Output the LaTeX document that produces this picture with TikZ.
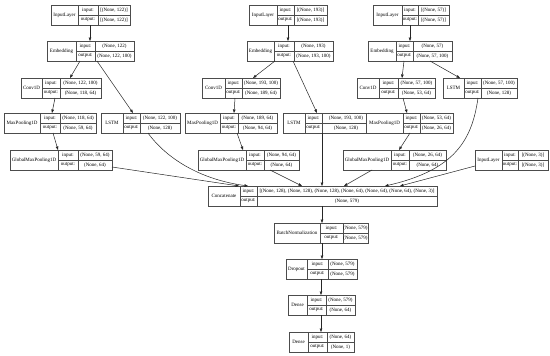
\documentclass[tikz,border=0pt]{standalone}
\usepackage{fontspec}
\setmainfont{Liberation Serif}
\usetikzlibrary{arrows.meta,calc}
\tikzset{
  box/.style={draw=black!70, line width=0.5pt, inner sep=0pt, outer sep=0pt, minimum height=20, fill=white},
  cell/.style={draw=black!70, line width=0.5pt},
  txt/.style={inner sep=0pt, font=\fontsize{5}{5.5}\selectfont, text=black},
  arr/.style={draw=black!85, line width=0.5pt, -{Triangle[length=3.5pt,width=2.6pt]}}
}
\newcommand{\klayer}[9]{%
  \node[box, minimum width={#5-#2}, anchor=north west] (#1) at (#2,#6) {};
  \draw[cell] (#3,#6) -- (#3,#6+20) (#4,#6) -- (#4,#6+20) (#3,#6+10) -- (#5,#6+10);
  \node[txt] (#1n) at ({(#2+#3)/2},#6+10) {#7};
  \node[txt] (#1il) at ({(#3+#4)/2},#6+5) {input:};
  \node[txt] (#1ol) at ({(#3+#4)/2},#6+15) {output:};
  \node[txt] (#1iv) at ({(#4+#5)/2},#6+5) {#8};
  \node[txt] (#1ov) at ({(#4+#5)/2},#6+15) {#9};
}
\begin{document}
\begin{tikzpicture}[x=1pt,y=-1pt]
\fill[white] (0,0) rectangle (550,356);
\useasboundingbox (0,0) rectangle (550,356);
% branch 1
\klayer{inA}{51}{78}{98}{130}{5}{InputLayer}{[(None, 122)]}{[(None, 122)]}
\klayer{embA}{47}{76}{95}{134}{41}{Embedding}{(None, 122)}{(None, 122, 100)}
\klayer{convA}{21}{42}{60}{101}{78}{Conv1D}{(None, 122, 100)}{(None, 118, 64)}
\klayer{mpA}{4}{40}{60}{96}{113}{MaxPooling1D}{(None, 118, 64)}{(None, 59, 64)}
\klayer{lstmA}{101}{123}{140}{180}{113}{LSTM}{(None, 122, 100)}{(None, 128)}
\klayer{gmpA}{10}{58}{78}{112}{150}{GlobalMaxPooling1D}{(None, 59, 64)}{(None, 64)}
% branch 2
\klayer{inB}{249}{277}{294}{327}{5}{InputLayer}{[(None, 193)]}{[(None, 193)]}
\klayer{embB}{247}{274}{294}{333}{41}{Embedding}{(None, 193)}{(None, 193, 100)}
\klayer{convB}{202}{225}{242}{280}{78}{Conv1D}{(None, 193, 100)}{(None, 189, 64)}
\klayer{mpB}{185}{220}{238}{277}{113}{MaxPooling1D}{(None, 189, 64)}{(None, 94, 64)}
\klayer{lstmB}{283}{305}{322}{370}{113}{LSTM}{(None, 193, 100)}{(None, 128)}
\klayer{gmpB}{198}{246}{264}{299}{150}{GlobalMaxPooling1D}{(None, 94, 64)}{(None, 64)}
% branch 3
\klayer{inC}{373}{402}{418}{449}{5}{InputLayer}{[(None, 57)]}{[(None, 57)]}
\klayer{embC}{368}{396}{413}{452}{41}{Embedding}{(None, 57)}{(None, 57, 100)}
\klayer{convC}{357}{379}{398}{435}{78}{Conv1D}{(None, 57, 100)}{(None, 53, 64)}
\klayer{lstmC}{443}{464}{481}{517}{78}{LSTM}{(None, 57, 100)}{(None, 128)}
\klayer{mpC}{366}{403}{420}{453}{113}{MaxPooling1D}{(None, 53, 64)}{(None, 26, 64)}
\klayer{gmpC}{343}{391}{409}{446}{150}{GlobalMaxPooling1D}{(None, 26, 64)}{(None, 64)}
\klayer{inD}{475}{502}{518}{548}{150}{InputLayer}{[(None, 3)]}{[(None, 3)]}
% trunk
\klayer{cat}{208}{240}{257}{437}{186}{Concatenate}{[(None, 128), (None, 128), (None, 128), (None, 64), (None, 64), (None, 64), (None, 3)]}{(None, 579)}
\klayer{bn}{274}{320}{343}{368}{223}{BatchNormalization}{(None, 579)}{(None, 579)}
\klayer{drop}{286}{307}{328}{357}{259}{Dropout}{(None, 579)}{(None, 579)}
\klayer{denA}{288}{307}{326}{355}{295}{Dense}{(None, 579)}{(None, 64)}
\klayer{denB}{289}{308}{327}{354}{332}{Dense}{(None, 64)}{(None, 1)}
% edges branch 1
\draw[arr] ($(inA.south west)+(39,0)$) -- ($(embA.north west)+(43,0)$);
\draw[arr] ($(embA.south west)+(33,0)$) -- ($(convA.north west)+(49,0)$);
\draw[arr] ($(embA.south west)+(50,0)$) -- ($(lstmA.north west)+(32,0)$);
\draw[arr] ($(convA.south west)+(34,0)$) -- ($(mpA.north west)+(48,0)$);
\draw[arr] ($(mpA.south west)+(49,0)$) -- ($(gmpA.north west)+(48,0)$);
\draw[arr] ($(gmpA.south east)+(0,-3)$) -- ($(cat.north west)+(31,0)$);
\draw[arr] ($(lstmA.south west)+(47,0)$) .. controls ($(lstmA.south west)+(59,17)$) and ($(lstmA.south west)+(89,45)$) .. ($(cat.north west)+(40,0)$);
% edges branch 2
\draw[arr] ($(inB.south west)+(39,0)$) -- ($(embB.north west)+(41,0)$);
\draw[arr] ($(embB.south west)+(28,0)$) -- ($(convB.north west)+(51,0)$);
\draw[arr] ($(embB.south west)+(46,0)$) -- ($(lstmB.north west)+(34,0)$);
\draw[arr] ($(convB.south west)+(33,0)$) -- ($(mpB.north west)+(49,0)$);
\draw[arr] ($(mpB.south west)+(52,0)$) -- ($(gmpB.north west)+(45,0)$);
\draw[arr] ($(gmpB.south west)+(72,0)$) -- ($(cat.north west)+(94,0)$);
\draw[arr] ($(lstmB.south west)+(39,0)$) -- ($(cat.north west)+(114,0)$);
% edges branch 3
\draw[arr] ($(inC.south west)+(37,0)$) -- ($(embC.north west)+(42,0)$);
\draw[arr] ($(embC.south west)+(36,0)$) -- ($(convC.north west)+(45,0)$);
\draw[arr] ($(embC.south west)+(62,0)$) -- ($(lstmC.north west)+(17,0)$);
\draw[arr] ($(convC.south west)+(46,0)$) -- ($(mpC.north west)+(41,0)$);
\draw[arr] ($(mpC.south west)+(44,0)$) -- ($(gmpC.north west)+(56,0)$);
\draw[arr] ($(gmpC.south west)+(29,0)$) -- ($(cat.north west)+(136,0)$);
\draw[arr] ($(lstmC.south west)+(35,0)$) .. controls ($(lstmC.south west)+(29,42)$) and ($(lstmC.south west)+(12,72)$) .. ($(cat.north west)+(177,0)$);
\draw[arr] ($(inD.south west)+(0,-4)$) -- ($(cat.north west)+(192,0)$);
% trunk edges
\draw[arr] ($(cat.south west)+(114,0)$) -- ($(bn.north west)+(48,0)$);
\draw[arr] ($(bn.south west)+(48,0)$) -- ($(drop.north west)+(36,0)$);
\draw[arr] ($(drop.south west)+(35,0)$) -- ($(denA.north west)+(33,0)$);
\draw[arr] ($(denA.south west)+(33,0)$) -- ($(denB.north west)+(32,0)$);
\end{tikzpicture}
\end{document}
